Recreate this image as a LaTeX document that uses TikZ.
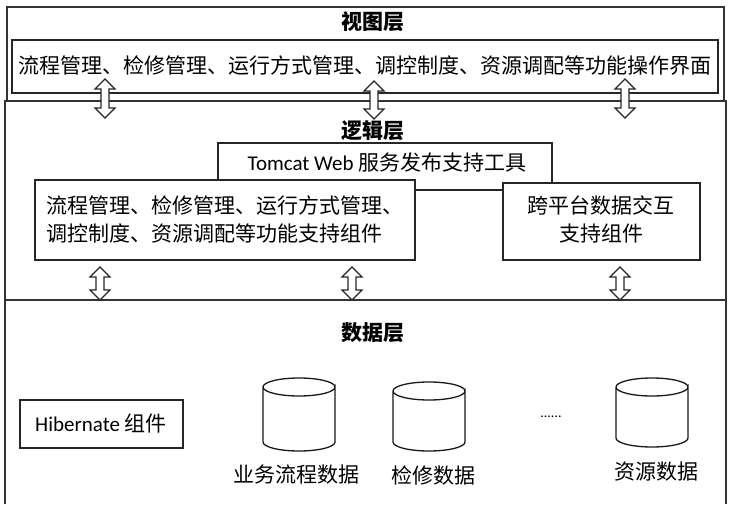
\documentclass[tikz,border=0pt]{standalone}
\usepackage{fontspec}
\setmainfont{Noto Sans CJK SC}
\newfontfamily\lat{Carlito}
\tikzset{
  layer/.style={draw=black!80, line width=1.4},
  box/.style={draw=black!85, line width=1.2, fill=white},
  txt/.style={font=\fontsize{21}{28}\selectfont, inner sep=0},
  head/.style={font=\fontsize{21}{26}\selectfont\bfseries, inner sep=0},
  arr/.style={draw=black!85, line width=1.1, fill=white, line join=miter},
  cyl/.style={draw=black!90, line width=1.3, fill=white}
}
\newcommand\udarrow[3]{%
  \draw[arr] (#1-4,#2+10) -- (#1-10,#2+10) -- (#1,#2) -- (#1+10,#2+10) -- (#1+4,#2+10)
    -- (#1+4,#3-10) -- (#1+10,#3-10) -- (#1,#3) -- (#1-10,#3-10) -- (#1-4,#3-10) -- cycle;}
\newcommand\dbcyl[4]{% cx, top, bottom, rx
  \draw[cyl] (#1-#4,#2+9) -- (#1-#4,#3-9) arc[start angle=180, end angle=0, x radius=#4, y radius=9]
    -- (#1+#4,#2+9) arc[start angle=0, end angle=360, x radius=#4, y radius=9];}
\begin{document}
\begin{tikzpicture}[x=1pt,y=-1pt]
\useasboundingbox (0,0) rectangle (729,504);
% layers
\draw[layer] (7,7) rectangle (724,101);
\draw[layer] (5,101) rectangle (726,300);
\draw[layer] (5,504) -- (5,300) -- (726,300) -- (726,504);
% view layer
\node[head] (vh) at (373,22) {视图层};
\draw[box] (12,40) rectangle (718,93);
\node[txt] (vt) at (365,66) {流程管理、检修管理、运行方式管理、调控制度、资源调配等功能操作界面};
% logic layer
\node[head] (lh) at (373,131) {逻辑层};
\draw[box] (218,143) rectangle (552,190);
\node[txt] (tomcat) at (387,163) {{\lat Tomcat Web} 服务发布支持工具};
\draw[box] (35,180) rectangle (415,260);
\node[txt, align=left, anchor=west] (lt) at (46,219) {流程管理、检修管理、运行方式管理、\\调控制度、资源调配等功能支持组件};
\draw[box] (503,183) rectangle (700,260);
\node[txt, align=center] (rt) at (601,219) {跨平台数据交互\\支持组件};
% arrows view <-> logic
\udarrow{105}{79}{118}
\udarrow{374}{81}{119}
\udarrow{625}{79}{118}
% arrows logic <-> data
\udarrow{100}{267}{300}
\udarrow{352}{267}{300}
\udarrow{620}{267}{300}
% data layer
\node[head] (dh) at (373,333) {数据层};
\draw[box] (20,400) rectangle (183,448);
\node[txt] (hib) at (101,424) {{\lat Hibernate} 组件};
\dbcyl{299}{378}{451}{36}
\dbcyl{429}{382}{451}{36}
\dbcyl{652}{378}{447}{36}
\coordinate (c1) at (299,414);
\coordinate (c2) at (429,416);
\coordinate (c3) at (652,412);
\node[font=\fontsize{14}{16}\selectfont, inner sep=0] (dots) at (551,417) {{\lat ......}};
\node[txt] (d1) at (296,475) {业务流程数据};
\node[txt] (d2) at (433,475) {检修数据};
\node[txt] (d3) at (656,472) {资源数据};
\end{tikzpicture}
\end{document}
